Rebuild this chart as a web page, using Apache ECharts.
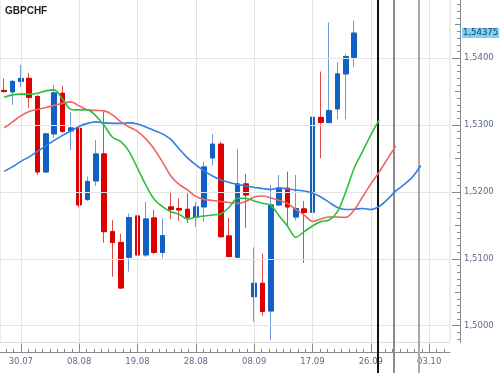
<!DOCTYPE html>
<html><head><meta charset="utf-8">
<script src="https://cdn.jsdelivr.net/npm/echarts@6/dist/echarts.min.js"></script>
<style>html,body{margin:0;padding:0;background:#fff}#c{width:501px;height:373px}</style>
</head><body><div id="c"></div>
<script>
// ---- candle data (one entry per trading slot) ----
const openP = [1.53518,1.53496,1.53653,1.53698,1.53426,1.52299,1.52868,1.53476,1.52913,1.52950,
  1.51888,1.52165,1.52568,1.51406,1.51245,1.51023,1.51641,1.51058,1.51611,1.51095,
  1.51776,1.51753,1.51741,1.51622,1.51776,1.52509,1.52714,1.51342,1.51023,1.52120,
  1.50434,1.50634,1.50220,1.51806,1.52055,1.51626,1.51746,1.51696,1.53114,1.53037,
  1.53242,1.53765,1.54012];
const closeP = [1.53503,1.53653,1.53698,1.53414,1.52299,1.52868,1.53481,1.52905,1.52957,1.51806,
  1.52157,1.52568,1.51406,1.51245,1.50564,1.51616,1.51058,1.51596,1.51095,1.51346,
  1.51738,1.51731,1.51622,1.51776,1.52374,1.52714,1.51331,1.51035,1.52120,1.51955,
  1.50634,1.50212,1.51806,1.52055,1.51776,1.51753,1.51693,1.53117,1.53040,1.53216,
  1.53765,1.54024,1.54375];
const lowP = [1.53481,1.53301,1.53571,1.53257,1.52254,1.52284,1.52808,1.52883,1.52628,1.51768,
  1.51865,1.52090,1.51242,1.50733,1.50549,1.50808,1.50721,1.51028,1.51073,1.51008,
  1.51592,1.51566,1.51536,1.51476,1.51556,1.52393,1.51319,1.51020,1.51013,1.51461,
  1.50060,1.50145,1.49786,1.51791,1.51472,1.51574,1.50938,1.51645,1.52504,1.53028,
  1.53088,1.53088,1.53865];
const highP = [1.53698,1.53675,1.53900,1.53780,1.53451,1.52883,1.53601,1.53586,1.53197,1.52972,
  1.52232,1.52778,1.53201,1.51581,1.51372,1.51678,1.51746,1.51850,1.51731,1.51607,
  1.52005,1.51906,1.51981,1.51850,1.52453,1.52863,1.52752,1.51611,1.52639,1.52269,
  1.51170,1.51080,1.52105,1.52254,1.52304,1.52254,1.51865,1.53237,1.53800,1.54536,
  1.53945,1.54064,1.54563];

// ---- indicator lines (shifted forward past the last candle) ----
const lipsGreen = [1.53417,1.53451,1.53462,1.53462,1.53476,1.53511,1.53526,1.53391,1.53234,1.53227,
  1.53227,1.53137,1.52992,1.52818,1.52752,1.52603,1.52355,1.52105,1.51891,1.51780,
  1.51705,1.51666,1.51592,1.51626,1.51641,1.51656,1.51671,1.51771,1.51906,1.51906,
  1.51865,1.51831,1.51801,1.51641,1.51491,1.51322,1.51406,1.51491,1.51556,1.51581,
  1.51705,1.52005,1.52355,1.52603,1.52853,1.53077];
const teethRed = [1.52957,1.53047,1.53137,1.53204,1.53234,1.53264,1.53294,1.53324,1.53346,1.53287,
  1.53227,1.53219,1.53212,1.53152,1.53047,1.52972,1.52905,1.52793,1.52643,1.52449,
  1.52239,1.52112,1.52030,1.51933,1.51888,1.51873,1.51858,1.51843,1.51828,1.51858,
  1.51925,1.51940,1.51910,1.51873,1.51828,1.51738,1.51656,1.51559,1.51596,1.51626,
  1.51626,1.51619,1.51731,1.51925,1.52120,1.52299,1.52494,1.52688];
const jawBlue = [1.52307,1.52374,1.52456,1.52524,1.52606,1.52688,1.52770,1.52845,1.52913,1.52980,
  1.53025,1.53047,1.53032,1.53025,1.53025,1.53032,1.53017,1.52972,1.52920,1.52868,
  1.52785,1.52643,1.52509,1.52404,1.52314,1.52239,1.52180,1.52142,1.52112,1.52090,
  1.52067,1.52052,1.52037,1.52060,1.52045,1.52030,1.52015,1.51985,1.51925,1.51843,
  1.51768,1.51738,1.51741,1.51753,1.51738,1.51783,1.51888,1.52015,1.52112,1.52224,
  1.52396];

// ---- axes / labels ----
const slotCount = 54;
const xLabelSlots = [2, 9, 16, 23, 30, 37, 44, 51];
const xLabelTexts = ['30.07', '08.08', '19.08', '28.08', '08.09', '17.09', '26.09', '03.10'];
const yLabelValues = [1.50, 1.51, 1.52, 1.53, 1.54];
const yMidTicks = [1.505, 1.515, 1.525, 1.535, 1.545];
const markerSlots = [44.8, 46.8, 49.8];
const markerColors = ['#111111', '#8c8c8c', '#a8a8a8'];
const lastPrice = 1.54375;
const yMin = 1.4975, yMax = 1.549;

const categories = Array.from({length: slotCount}, (_, i) => String(i));
const fmtPrice = (v, d) => v.toFixed(d).replace('.', ',');
const wickData = openP.map((o, i) => [o, closeP[i], lowP[i], highP[i]]);
const bodyData = openP.map((o, i) => [o, closeP[i], Math.min(o, closeP[i]), Math.max(o, closeP[i])]);
const minorX = [];
for (let k = -2; k <= 58; k++) minorX.push(xLabelSlots[0] + 0.875 * k);
const minorY = [];
for (let k = 1498; k <= 1548; k++) minorY.push(k / 1000);

const axisGray = '#8a8a8a';
const gridGray = '#e4e4e4';
const labelColor = '#5d6a88';
const font = 'DejaVu Sans';

const gridLineStyle = {color: gridGray, width: 1, type: 'solid'};
const gridLines = [
  ...xLabelSlots.map(s => ({xAxis: s, lineStyle: gridLineStyle})),
  ...yLabelValues.map(v => ({yAxis: v, lineStyle: gridLineStyle}))
];

const hiddenY = (len, ticks) => ({gridIndex: 0, type: 'value', position: 'right', min: yMin, max: yMax, offset: 10,
  axisLine: {show: false, onZero: false},
  axisTick: {show: true, inside: true, length: len, customValues: ticks, lineStyle: {color: axisGray}},
  axisLabel: {show: false}, splitLine: {show: false}});

const chart = echarts.init(document.getElementById('c'), null, {renderer: 'canvas'});
chart.setOption({
  animation: false,
  backgroundColor: '#ffffff',
  title: {text: 'GBPCHF', left: 0, top: 1,
    textStyle: {fontSize: 10, fontWeight: 'bold', color: '#1f1f1f', fontFamily: 'Liberation Sans'}},
  grid: [
    {left: 0, top: -2, width: 450, height: 344.4, show: true, borderColor: '#dadada', borderWidth: 1, outerBoundsMode: 'none'},
    {left: 0, top: 0, width: 450, height: 373, outerBoundsMode: 'none'}
  ],
  xAxis: [
    {gridIndex: 0, type: 'category', data: categories, boundaryGap: true, show: false},
    {gridIndex: 0, type: 'value', min: -0.5, max: 53.5, position: 'bottom', offset: 10,
      axisLine: {show: true, onZero: false, lineStyle: {color: axisGray, width: 1}},
      axisTick: {show: true, inside: true, length: 9, customValues: xLabelSlots, lineStyle: {color: axisGray}},
      axisLabel: {show: true, customValues: xLabelSlots, margin: 5, color: labelColor, fontSize: 8.5, fontFamily: font,
        formatter: v => xLabelTexts[xLabelSlots.indexOf(v)] || ''},
      splitLine: {show: false}},
    {gridIndex: 0, type: 'value', min: -0.5, max: 53.5, position: 'bottom', offset: 10,
      axisLine: {show: false, onZero: false},
      axisTick: {show: true, inside: true, length: 3.5, customValues: minorX, lineStyle: {color: axisGray}},
      axisLabel: {show: false}, splitLine: {show: false}},
    {gridIndex: 1, type: 'value', min: -0.5, max: 53.5, show: false}
  ],
  yAxis: [
    {gridIndex: 0, type: 'value', position: 'right', min: yMin, max: yMax, offset: 10,
      axisLine: {show: true, onZero: false, lineStyle: {color: axisGray, width: 1}},
      axisTick: {show: true, inside: true, length: 8, customValues: yLabelValues, lineStyle: {color: axisGray}},
      axisLabel: {show: true, customValues: yLabelValues, margin: 4, color: labelColor, fontSize: 8.5, fontFamily: font,
        formatter: v => fmtPrice(v, 4)},
      splitLine: {show: false}},
    hiddenY(5, yMidTicks),
    hiddenY(3, minorY),
    {gridIndex: 1, type: 'value', min: 0, max: 1, show: false}
  ],
  series: [
    {type: 'line', name: 'grid', xAxisIndex: 1, yAxisIndex: 0, data: [], z: 1,
      markLine: {silent: true, symbol: 'none', animation: false, precision: 5, label: {show: false},
        lineStyle: gridLineStyle, data: gridLines}},
    {type: 'candlestick', name: 'wicks', xAxisIndex: 0, yAxisIndex: 0, data: wickData, barWidth: 5, z: 3,
      itemStyle: {color: 'rgba(0,0,0,0)', color0: 'rgba(0,0,0,0)', borderColor: '#6f9bd6', borderColor0: '#e04a4a', borderWidth: 1}},
    {type: 'candlestick', name: 'GBPCHF', xAxisIndex: 0, yAxisIndex: 0, data: bodyData, barWidth: 5, z: 4,
      itemStyle: {color: '#1061c3', color0: '#dc0000', borderColor: '#1061c3', borderColor0: '#dc0000', borderWidth: 1}},
    {type: 'line', name: 'jaw', xAxisIndex: 0, yAxisIndex: 0, data: jawBlue, showSymbol: false, smooth: 0.3, z: 5,
      lineStyle: {color: '#2f80e0', width: 1.6}},
    {type: 'line', name: 'teeth', xAxisIndex: 0, yAxisIndex: 0, data: teethRed, showSymbol: false, smooth: 0.3, z: 5,
      lineStyle: {color: '#f06464', width: 1.6}},
    {type: 'line', name: 'lips', xAxisIndex: 0, yAxisIndex: 0, data: lipsGreen, showSymbol: false, smooth: 0.3, z: 5,
      lineStyle: {color: '#2dbf3a', width: 1.6}},
    {type: 'line', name: 'lastPrice', xAxisIndex: 1, yAxisIndex: 0, data: [], z: 6,
      markLine: {silent: true, symbol: 'none', animation: false, precision: 5,
        lineStyle: {color: 'rgba(0,0,0,0)', width: 0},
        label: {show: true, position: 'end', distance: 12, formatter: () => fmtPrice(lastPrice, 5),
          backgroundColor: '#7fd0f5', color: '#17375e', fontSize: 8.5, fontFamily: font, padding: [1, 1, 0, 1], lineHeight: 9},
        data: [{yAxis: lastPrice}]}},
    {type: 'line', name: 'markers', xAxisIndex: 3, yAxisIndex: 3, data: [], z: 10,
      markLine: {silent: true, symbol: 'none', animation: false, precision: 5, label: {show: false},
        data: markerSlots.map((s, i) => ({xAxis: s, lineStyle: {color: markerColors[i], width: 2, type: 'solid'}}))}}
  ]
});
</script>
</body></html>
